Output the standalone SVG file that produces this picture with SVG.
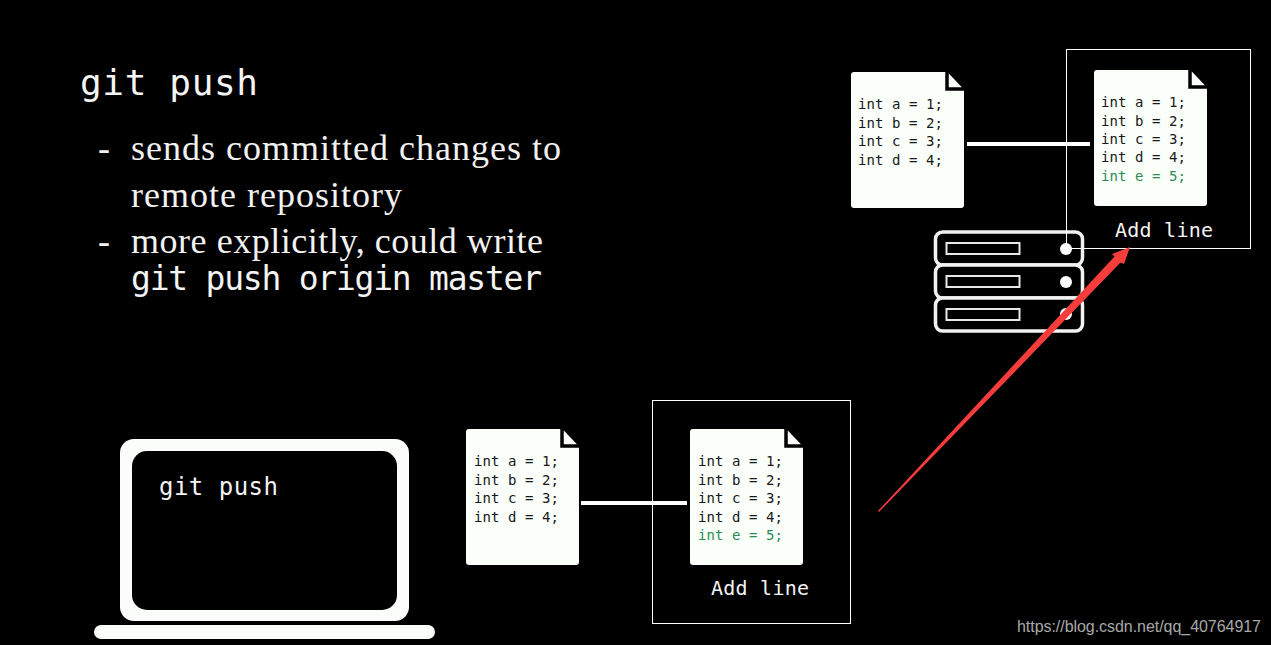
<svg xmlns="http://www.w3.org/2000/svg" width="1271" height="645" viewBox="0 0 1271 645">
<defs>
<style>
text{white-space:pre}
.mono{font-family:"DejaVu Sans Mono","Liberation Mono",monospace;fill:#f4f4f4}
.serif{font-family:"Liberation Serif",serif;fill:#f2f2f2;font-size:36px}
.code{font-family:"DejaVu Sans Mono",monospace;font-size:14px;fill:#181818}
.green{fill:#2e8b57}
.lbl{font-size:20px}
.box{fill:none;stroke:#fff;stroke-width:1}
.paper{fill:#fafff9}
.fold{fill:#fafff9;stroke:#000;stroke-width:3.5}
.link{stroke:#fff;stroke-width:4;fill:none}
.rack{fill:#000;stroke:#f2f2f2;stroke-width:3.5}
.slot{fill:none;stroke:#e8e8e8;stroke-width:2}
</style>
<g id="doc4">
<path class="paper" d="M3 0H96L113 18V133a3 3 0 0 1-3 3H3a3 3 0 0 1-3-3V3a3 3 0 0 1 3-3Z"/>
<path class="fold" d="M96-3V17H115Z"/>
</g>
</defs>
<rect width="1271" height="645" fill="#000"/>
<g id="title">
<text class="mono" x="80" y="95" font-size="36" textLength="178">git push</text>
<text class="serif" x="98" y="160">-</text>
<text class="serif" x="131" y="160" textLength="430">sends committed changes to</text>
<text class="serif" x="131" y="207" textLength="271">remote repository</text>
<text class="serif" x="98" y="253">-</text>
<text class="serif" x="131" y="253" textLength="412">more explicitly, could write</text>
<text class="mono" x="131" y="290" font-size="33" textLength="411">git push origin master</text>
</g>
<g id="connectors">
<line class="link" x1="967" y1="144" x2="1090" y2="144"/>
<line class="link" x1="581" y1="503" x2="687" y2="503"/>
</g>
<g id="server">
<rect class="rack" x="935.500" y="232" width="147" height="33" rx="7"/>
<rect class="rack" x="935.500" y="265" width="147" height="33" rx="7"/>
<rect class="rack" x="935.500" y="298" width="147" height="33" rx="7"/>
<rect class="slot" x="946.500" y="243" width="73" height="11"/>
<rect class="slot" x="946.500" y="276" width="73" height="11"/>
<rect class="slot" x="946.500" y="309" width="73" height="11"/>
<circle cx="1066" cy="249" r="6" fill="#fff"/>
<circle cx="1066" cy="282" r="6" fill="#fff"/>
<circle cx="1066" cy="314" r="6" fill="#fff"/>
</g>
<g id="remote-old">
<use href="#doc4" x="851" y="72"/>
<text class="code" x="858" y="109" textLength="85">int a = 1;</text>
<text class="code" x="858" y="128" textLength="85">int b = 2;</text>
<text class="code" x="858" y="146" textLength="85">int c = 3;</text>
<text class="code" x="858" y="165" textLength="85">int d = 4;</text>
</g>
<g id="remote-new">
<rect class="box" x="1066.500" y="49.500" width="184" height="199"/>
<use href="#doc4" x="1094" y="70"/>
<text class="code" x="1101" y="107" textLength="85">int a = 1;</text>
<text class="code" x="1101" y="126" textLength="85">int b = 2;</text>
<text class="code" x="1101" y="144" textLength="85">int c = 3;</text>
<text class="code" x="1101" y="162" textLength="85">int d = 4;</text>
<text class="code green" x="1101" y="181" textLength="85">int e = 5;</text>
<text class="mono lbl" x="1115" y="237" textLength="98">Add line</text>
</g>
<g id="laptop">
<path d="M134 439H395a14 14 0 0 1 14 14V607a14 14 0 0 1-14 14H134a14 14 0 0 1-14-14V453a14 14 0 0 1 14-14Z" fill="#fafdfa"/>
<rect x="132" y="451" width="265" height="159" rx="15" fill="#000"/>
<rect x="94" y="625" width="341" height="14" rx="7" fill="#fafdfa"/>
<text class="mono" x="159" y="495" font-size="24" textLength="119">git push</text>
</g>
<g id="local-old">
<use href="#doc4" x="466" y="429"/>
<text class="code" x="474" y="466" textLength="85">int a = 1;</text>
<text class="code" x="474" y="485" textLength="85">int b = 2;</text>
<text class="code" x="474" y="503" textLength="85">int c = 3;</text>
<text class="code" x="474" y="522" textLength="85">int d = 4;</text>
</g>
<g id="local-new">
<rect class="box" x="652.500" y="400.500" width="198" height="223"/>
<use href="#doc4" x="690" y="429"/>
<text class="code" x="698" y="466" textLength="85">int a = 1;</text>
<text class="code" x="698" y="485" textLength="85">int b = 2;</text>
<text class="code" x="698" y="503" textLength="85">int c = 3;</text>
<text class="code" x="698" y="522" textLength="85">int d = 4;</text>
<text class="code green" x="698" y="540" textLength="85">int e = 5;</text>
<text class="mono lbl" x="711" y="595" textLength="98">Add line</text>
</g>
<g id="annotation">
<path d="M878 511L1114.500 256.500L1112 254L1130 247L1124 264L1120.500 262.500L879 512Z" fill="#f73c3c"/>
</g>
<text x="1017" y="632" font-family="Liberation Sans, sans-serif" font-size="16" fill="#a8a8a8" textLength="244">https://blog.csdn.net/qq_40764917</text>
</svg>
